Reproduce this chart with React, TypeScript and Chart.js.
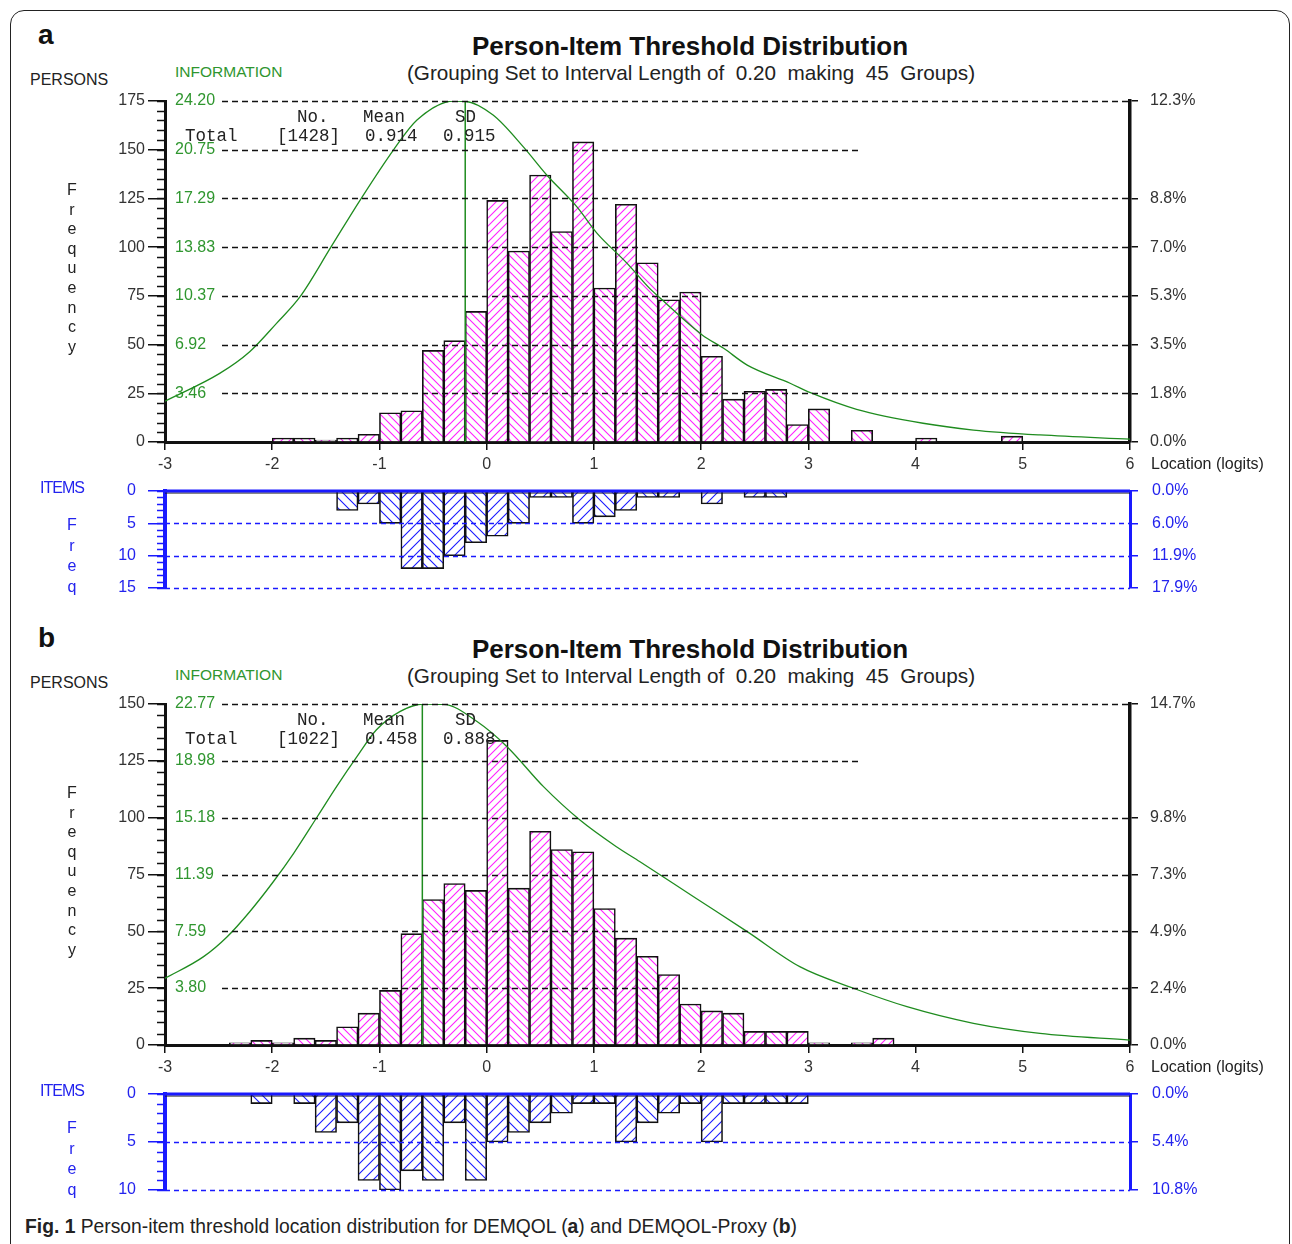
import React, { useEffect, useRef } from 'react';
import { Chart, registerables } from 'chart.js';
Chart.register(...registerables);

// ---------- DATA ----------
const BIN_CENTERS = [-2.9,-2.7,-2.5,-2.3,-2.1,-1.9,-1.7,-1.5,-1.3,-1.1,-0.9,-0.7,-0.5,-0.3,-0.1,0.1,0.3,0.5,0.7,0.9,1.1,1.3,1.5,1.7,1.9,2.1,2.3,2.5,2.7,2.9,3.1,3.3,3.5,3.7,3.9,4.1,4.3,4.5,4.7,4.9,5.1,5.3,5.5,5.7,5.9];

const A_PERSONS = [0,0,0,0,0, 2,2,1,2,4, 15,16,47,52,67, 124,98,137,108,154, 79,122,92,73,77, 44,22,26,27,9, 17,0,6,0,0, 2,0,0,0,3, 0,0,0,0,0];
const A_ITEMS = [0,0,0,0,0, 0,0,0,3,2, 5,12,12,10,8, 7,5,1,1,5, 4,3,1,1,0, 2,0,1,1,0, 0,0,0,0,0, 0,0,0,0,0, 0,0,0,0,0];
const B_PERSONS = [0,0,0,1,2, 1,3,2,8,14, 24,49,64,71,68, 134,69,94,86,85, 60,47,39,31,18, 15,14,6,6,6, 1,0,1,3,0, 0,0,0,0,0, 0,0,0,0,0];
const B_ITEMS = [0,0,0,0,1, 0,1,4,3,9, 10,8,9,3,9, 5,4,3,2,1, 1,5,3,2,1, 5,1,1,1,1, 0,0,0,0,0, 0,0,0,0,0, 0,0,0,0,0];

const A_INFO_X = [-3.0,-2.49,-2.21,-1.96,-1.74,-1.45,-1.18,-0.87,-0.65,-0.31,-0.2,0.06,0.34,0.56,0.84,1.03,1.31,1.52,1.62,2.01,2.21,2.43,2.83,3.02,3.45,4.07,4.54,5.16,6.0];
const A_INFO_Y = [2.9,4.87,6.41,8.42,10.31,13.86,17.17,20.72,22.85,24.2,24.18,23.2,20.96,18.95,16.7,14.81,12.68,10.9,10.2,7.6,6.65,5.46,4.17,3.5,2.32,1.33,0.85,0.5,0.21];
const B_INFO_X = [-3.0,-2.64,-2.42,-2.21,-1.99,-1.8,-1.58,-1.4,-1.21,-1.03,-0.81,-0.59,-0.4,-0.09,0.19,0.53,0.87,1.21,1.43,1.93,2.43,2.92,3.42,3.92,4.54,5.16,6.0];
const B_INFO_Y = [4.45,5.9,7.23,8.9,10.9,12.8,15.24,17.25,19.25,21.03,22.26,22.77,22.75,21.6,19.92,17.25,15.02,13.24,12.24,9.9,7.57,5.23,3.79,2.56,1.45,0.78,0.33];

const A_INFO_TICKS = [3.46, 6.92, 10.37, 13.83, 17.29, 20.75, 24.20];
const B_INFO_TICKS = [3.80, 7.59, 11.39, 15.18, 18.98, 22.77];
const A_RIGHT_TICKS = [0, 25, 50, 75, 100, 125, 175];
const A_RIGHT_LABELS = ['0.0%', '1.8%', '3.5%', '5.3%', '7.0%', '8.8%', '12.3%'];
const B_RIGHT_TICKS = [0, 25, 50, 75, 100, 150];
const B_RIGHT_LABELS = ['0.0%', '2.4%', '4.9%', '7.3%', '9.8%', '14.7%'];
const A_ITEM_RIGHT_TICKS = [0, 5, 10, 15];
const A_ITEM_RIGHT_LABELS = ['0.0%', '6.0%', '11.9%', '17.9%'];
const B_ITEM_RIGHT_TICKS = [0, 5, 10];
const B_ITEM_RIGHT_LABELS = ['0.0%', '5.4%', '10.8%'];

// ---------- STYLE ----------
const FONT = '"Liberation Sans", Arial, Helvetica, sans-serif';
const MONO = '"Liberation Mono", "Courier New", monospace';
const GREEN_TXT = '#2f962f';
const GREEN_LINE = '#1f8c1f';
const BLUE = '#1a1aff';
const BLUE_TXT = '#2323ee';
const MAGENTA = '#ff22ff';
const TXT = '#333';

function makeHatch(color: string, dir: string, size: number, lw: number) {
  const c = document.createElement('canvas');
  c.width = size; c.height = size;
  const g = c.getContext('2d')!;
  g.fillStyle = '#fff'; g.fillRect(0, 0, size, size);
  g.strokeStyle = color; g.lineWidth = lw;
  g.beginPath();
  if (dir === '/') {
    g.moveTo(0, size); g.lineTo(size, 0);
    g.moveTo(-1, 1); g.lineTo(1, -1);
    g.moveTo(size - 1, size + 1); g.lineTo(size + 1, size - 1);
  } else {
    g.moveTo(0, 0); g.lineTo(size, size);
    g.moveTo(-1, size - 1); g.lineTo(1, size + 1);
    g.moveTo(size - 1, -1); g.lineTo(size + 1, 1);
  }
  g.stroke();
  return g.createPattern(c, 'repeat');
}

const decor = {
  id: 'decor',
  afterDatasetsDraw(chart: any, _args: any, o: any) {
    const { ctx, chartArea: ca, scales } = chart;
    const y = scales.y, x = scales.x;
    ctx.save();
    ctx.setLineDash(o.dash);
    ctx.strokeStyle = o.gridColor;
    ctx.lineWidth = 1.3;
    for (const t of y.ticks) {
      if (t.value <= 0) continue;
      const py = Math.round(y.getPixelForValue(t.value)) + 0.5;
      const x0 = ca.left + o.gridStart;
      const x1 = t.value === o.shortValue ? x.getPixelForValue(o.shortEnd) : ca.right;
      ctx.beginPath(); ctx.moveTo(x0, py); ctx.lineTo(x1, py); ctx.stroke();
    }
    ctx.setLineDash([]);
    ctx.strokeStyle = o.axisColor;
    ctx.lineWidth = 1.5;
    for (let v = y.min; v <= y.max + 1e-9; v += o.minorStep) {
      const py = Math.round(y.getPixelForValue(v)) + 0.5;
      ctx.beginPath(); ctx.moveTo(ca.left - 8, py); ctx.lineTo(ca.left, py); ctx.stroke();
    }
    if (o.topLine) {
      const py = y.getPixelForValue(0);
      ctx.strokeStyle = '#111'; ctx.lineWidth = 1.2;
      ctx.beginPath(); ctx.moveTo(ca.left, py + 2); ctx.lineTo(ca.right, py + 2); ctx.stroke();
      ctx.strokeStyle = BLUE; ctx.lineWidth = 3;
      ctx.beginPath(); ctx.moveTo(ca.left - 2, py); ctx.lineTo(ca.right, py); ctx.stroke();
    }
    ctx.restore();
  }
};

const tickFont = { family: FONT, size: 16 };
const fitV = (w: number) => (s: any) => { s.width = w; s.paddingTop = 0; s.paddingBottom = 0; };

function personsConfig(p: any, hatch: any) {
  return {
    type: 'bar',
    data: {
      datasets: [
        { type: 'line', data: p.infoX.map((x: number, i: number) => ({ x, y: p.infoY[i] })), xAxisID: 'x', yAxisID: 'info', borderColor: GREEN_LINE, borderWidth: 1.3, pointRadius: 0, cubicInterpolationMode: 'monotone', order: 0 },
        { type: 'line', data: [{ x: p.meanX, y: 0 }, { x: p.meanX, y: p.yMax }], xAxisID: 'x', yAxisID: 'y', borderColor: GREEN_LINE, borderWidth: 1.5, pointRadius: 0, order: 0 },
        { type: 'bar', data: BIN_CENTERS.map((x, i) => ({ x, y: p.counts[i] })), xAxisID: 'x', yAxisID: 'y',
          backgroundColor: (c: any) => (c.dataIndex % 2 === 0 ? hatch.back : hatch.fwd),
          borderColor: '#111', borderWidth: 1.6, barPercentage: 1, categoryPercentage: 1, order: 1 }
      ]
    },
    options: {
      responsive: false, animation: false, events: [],
      layout: { padding: { left: 105, right: 52, top: p.padTop, bottom: p.padBottom } },
      plugins: { legend: { display: false }, tooltip: { enabled: false },
        decor: { dash: [6, 4], gridColor: '#111', gridStart: 57, shortValue: p.shortValue, shortEnd: 3.48, axisColor: '#111', minorStep: 5, topLine: false } },
      scales: {
        x: { type: 'linear', min: -3, max: 6, offset: false, position: 'bottom',
          ticks: { stepSize: 1, color: TXT, font: tickFont, padding: 5, autoSkip: false, maxRotation: 0 },
          grid: { offset: false, drawOnChartArea: false, tickLength: 8, color: '#111', lineWidth: 1.5 },
          border: { color: '#111', width: 3 },
          afterFit: (s: any) => { s.height = 30; s.paddingLeft = 0; s.paddingRight = 0; } },
        y: { type: 'linear', position: 'left', min: 0, max: p.yMax, weight: 10,
          ticks: { stepSize: 25, color: TXT, font: tickFont, padding: 3 },
          grid: { drawOnChartArea: false, tickLength: 17, color: '#111', lineWidth: 1.5 },
          border: { color: '#111', width: 3 },
          afterFit: fitV(60) },
        info: { type: 'linear', position: 'left', min: 0, max: p.infoMax, weight: 0,
          afterBuildTicks: (s: any) => { s.ticks = p.infoTicks.map((v: number) => ({ value: v })); },
          ticks: { mirror: true, padding: 10, color: GREEN_TXT, font: tickFont, autoSkip: false, callback: (v: number) => v.toFixed(2) },
          grid: { display: false, drawTicks: false }, border: { display: false },
          afterFit: fitV(0) },
        y2: { type: 'linear', position: 'right', min: 0, max: p.yMax,
          afterBuildTicks: (s: any) => { s.ticks = p.rightTicks.map((v: number) => ({ value: v })); },
          ticks: { color: TXT, font: tickFont, padding: 12, autoSkip: false, callback: (_v: number, i: number) => p.rightLabels[i] },
          grid: { drawOnChartArea: false, tickLength: 8, color: '#111', lineWidth: 1.5 },
          border: { color: '#111', width: 3.5 },
          afterFit: fitV(110) }
      }
    },
    plugins: [decor]
  };
}

function itemsConfig(p: any, hatch: any) {
  return {
    type: 'bar',
    data: {
      datasets: [
        { type: 'bar', data: BIN_CENTERS.map((x, i) => ({ x, y: p.counts[i] })), xAxisID: 'x', yAxisID: 'y',
          backgroundColor: (c: any) => (c.dataIndex % 2 === 0 ? hatch.back : hatch.fwd),
          borderColor: '#111', borderWidth: 1.6, barPercentage: 1, categoryPercentage: 1 }
      ]
    },
    options: {
      responsive: false, animation: false, events: [],
      layout: { padding: { left: 105, right: 52, top: p.padTop, bottom: p.padBottom } },
      plugins: { legend: { display: false }, tooltip: { enabled: false },
        decor: { dash: [5, 4], gridColor: BLUE, gridStart: 0, shortValue: null, shortEnd: 6, axisColor: BLUE, minorStep: 1, topLine: true } },
      scales: {
        x: { type: 'linear', min: -3, max: 6, offset: false, display: false, grid: { offset: false } },
        y: { type: 'linear', position: 'left', min: 0, max: p.yMax, reverse: true,
          ticks: { stepSize: 5, color: BLUE_TXT, font: tickFont, padding: 12 },
          grid: { drawOnChartArea: false, tickLength: 17, color: BLUE, lineWidth: 1.5 },
          border: { color: BLUE, width: 4 },
          afterFit: fitV(60) },
        y2: { type: 'linear', position: 'right', min: 0, max: p.yMax, reverse: true,
          afterBuildTicks: (s: any) => { s.ticks = p.rightTicks.map((v: number) => ({ value: v })); },
          ticks: { color: BLUE_TXT, font: tickFont, padding: 14, autoSkip: false, callback: (_v: number, i: number) => p.rightLabels[i] },
          grid: { drawOnChartArea: false, tickLength: 8, color: BLUE, lineWidth: 1.5 },
          border: { color: BLUE, width: 3 },
          afterFit: fitV(110) }
      }
    },
    plugins: [decor]
  };
}

function Txt(props: { x: number; y: number; size: number; children: any; color?: string; bold?: boolean; family?: string; style?: any }) {
  return (
    <div style={{ position: 'absolute', left: props.x, top: props.y - props.size * 0.58, fontSize: props.size, lineHeight: 1.15 + '', whiteSpace: 'pre',
      color: props.color || '#222', fontWeight: props.bold ? 'bold' : 'normal', fontFamily: props.family || FONT, ...(props.style || {}) }}>
      {props.children}
    </div>
  );
}

function Vertical(props: { x: number; y: number; letters: string; step: number; color: string }) {
  return (
    <div style={{ position: 'absolute', left: props.x - 10, top: props.y - 9, width: 20, textAlign: 'center', fontFamily: FONT, fontSize: 16, color: props.color }}>
      {props.letters.split('').map((ch, i) => (
        <div key={i} style={{ height: props.step, lineHeight: '18px' }}>{ch}</div>
      ))}
    </div>
  );
}

function Panel(props: { dy: number; letter: string; total: string; mean: string; sd: string }) {
  const d = props.dy;
  return (
    <>
      <Txt x={38} y={35 + d} size={28} bold color="#111">{props.letter}</Txt>
      <div style={{ position: 'absolute', left: 390, width: 600, top: 31 + d, textAlign: 'center', fontFamily: FONT, fontWeight: 'bold', fontSize: 26, lineHeight: '30px', color: '#111' }}>Person-Item Threshold Distribution</div>
      <div style={{ position: 'absolute', left: 341, width: 700, top: 61 + d, textAlign: 'center', fontFamily: FONT, fontSize: 20.7, lineHeight: '24px', color: '#222', whiteSpace: 'pre' }}>(Grouping Set to Interval Length of  0.20  making  45  Groups)</div>
      <Txt x={30} y={80 + d} size={16}>PERSONS</Txt>
      <Txt x={175} y={72 + d} size={15.5} color={GREEN_TXT}>INFORMATION</Txt>
      <Vertical x={72} y={190 + d} letters="Frequency" step={19.6} color="#222" />
      <Txt x={297} y={117 + d} size={17.5} family={MONO}>No.</Txt>
      <Txt x={363} y={117 + d} size={17.5} family={MONO}>Mean</Txt>
      <Txt x={455} y={117 + d} size={17.5} family={MONO}>SD</Txt>
      <Txt x={185} y={136 + d} size={17.5} family={MONO}>Total</Txt>
      <Txt x={277} y={136 + d} size={17.5} family={MONO}>{props.total}</Txt>
      <Txt x={365} y={136 + d} size={17.5} family={MONO}>{props.mean}</Txt>
      <Txt x={443} y={136 + d} size={17.5} family={MONO}>{props.sd}</Txt>
    </>
  );
}

export default function App() {
  const ra = useRef<HTMLCanvasElement>(null);
  const rai = useRef<HTMLCanvasElement>(null);
  const rb = useRef<HTMLCanvasElement>(null);
  const rbi = useRef<HTMLCanvasElement>(null);

  useEffect(() => {
    const pHatch = { fwd: makeHatch(MAGENTA, '/', 8, 1.1), back: makeHatch(MAGENTA, '\\', 8, 1.1) };
    const iHatch = { fwd: makeHatch(BLUE, '/', 10, 1.1), back: makeHatch(BLUE, '\\', 10, 1.1) };
    const charts: Chart[] = [];
    charts.push(new Chart(ra.current!, personsConfig({ counts: A_PERSONS, yMax: 175, infoX: A_INFO_X, infoY: A_INFO_Y, infoMax: 24.2, infoTicks: A_INFO_TICKS,
      meanX: -0.2, rightTicks: A_RIGHT_TICKS, rightLabels: A_RIGHT_LABELS, shortValue: 150, padTop: 11, padBottom: 8 }, pHatch) as any));
    charts.push(new Chart(rai.current!, itemsConfig({ counts: A_ITEMS, yMax: 15, rightTicks: A_ITEM_RIGHT_TICKS, rightLabels: A_ITEM_RIGHT_LABELS, padTop: 11, padBottom: 12 }, iHatch) as any));
    charts.push(new Chart(rb.current!, personsConfig({ counts: B_PERSONS, yMax: 150, infoX: B_INFO_X, infoY: B_INFO_Y, infoMax: 22.77, infoTicks: B_INFO_TICKS,
      meanX: -0.6, rightTicks: B_RIGHT_TICKS, rightLabels: B_RIGHT_LABELS, shortValue: 125, padTop: 11, padBottom: 8 }, pHatch) as any));
    charts.push(new Chart(rbi.current!, itemsConfig({ counts: B_ITEMS, yMax: 10, rightTicks: B_ITEM_RIGHT_TICKS, rightLabels: B_ITEM_RIGHT_LABELS, padTop: 11, padBottom: 13 }, iHatch) as any));
    return () => { charts.forEach(c => c.destroy()); };
  }, []);

  const cv = (top: number, h: number): any => ({ position: 'absolute', left: 0, top, width: 1292, height: h });

  return (
    <div style={{ position: 'absolute', left: 0, top: 0, width: 1292, height: 1244, overflow: 'hidden', background: '#fff', fontFamily: FONT }}>
      <div style={{ position: 'absolute', left: 10, top: 10, width: 1278, height: 1300, border: '1.5px solid #222', borderRadius: 14 }} />
      <canvas ref={ra} width={1292} height={390} style={cv(90, 390)} />
      <canvas ref={rai} width={1292} height={120} style={cv(480, 120)} />
      <canvas ref={rb} width={1292} height={390} style={cv(693, 390)} />
      <canvas ref={rbi} width={1292} height={120} style={cv(1083, 120)} />
      <Panel dy={0} letter="a" total="[1428]" mean="0.914" sd="0.915" />
      <Panel dy={603} letter="b" total="[1022]" mean="0.458" sd="0.888" />
      <Txt x={1151} y={464} size={16}>Location (logits)</Txt>
      <Txt x={1151} y={1067} size={16}>Location (logits)</Txt>
      <Txt x={40} y={488} size={16} color={BLUE_TXT} style={{ letterSpacing: '-1px' }}>ITEMS</Txt>
      <Txt x={40} y={1091} size={16} color={BLUE_TXT} style={{ letterSpacing: '-1px' }}>ITEMS</Txt>
      <Vertical x={72} y={525} letters="Freq" step={20.5} color={BLUE_TXT} />
      <Vertical x={72} y={1128} letters="Freq" step={20.5} color={BLUE_TXT} />
      <Txt x={25} y={1227} size={19.3} color="#222"><b>Fig. 1</b> Person-item threshold location distribution for DEMQOL (<b>a</b>) and DEMQOL-Proxy (<b>b</b>)</Txt>
    </div>
  );
}
